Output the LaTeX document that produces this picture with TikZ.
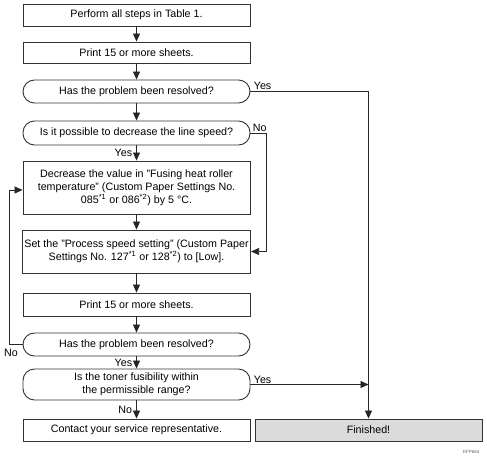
\documentclass[tikz,border=0pt]{standalone}
\usepackage{fontspec}
\setmainfont{Liberation Sans}
\usetikzlibrary{arrows.meta}
\begin{document}
\begin{tikzpicture}[x=1pt,y=-1pt,
  every node/.style={font=\fontsize{10.7}{13.2}\selectfont},
  stepbox/.style={draw=black!80,line width=0.9pt,minimum width=227pt,inner sep=2pt,align=center},
  askbox/.style={draw=black!80,line width=0.9pt,rounded corners=11.5pt,minimum width=227pt,inner sep=2pt,align=center},
  link/.style={draw=black!85,line width=0.8pt},
  flow/.style={link,-{Triangle[length=8pt,width=7pt]}},
  lbl/.style={inner sep=1pt,font=\fontsize{10.7}{12}\selectfont},
  vlbl/.style={lbl,left,pos=0.5,xshift=-3pt}]
\useasboundingbox (0,0) rectangle (487,458);
\node[stepbox,minimum height=22pt] (b1) at (136.5,15) {Perform all steps in Table 1.};
\node[stepbox,minimum height=21pt] (b2) at (136.5,52.5) {Print 15 or more sheets.};
\node[askbox,minimum height=23pt] (d1) at (136.5,91.5) {Has the problem been resolved?};
\node[askbox,minimum height=24pt] (d2) at (136.5,133) {Is it possible to decrease the line speed?};
\node[stepbox,minimum height=53pt] (b3) at (136.5,187.5) {Decrease the value in "Fusing heat roller\\temperature" (Custom Paper Settings No.\\085\textsuperscript{*1} or 086\textsuperscript{*2}) by 5 °C.};
\node[stepbox,minimum height=43pt] (b4) at (136.5,251.5) {Set the "Process speed setting" (Custom Paper\\Settings No. 127\textsuperscript{*1} or 128\textsuperscript{*2}) to [Low].};
\node[stepbox,minimum height=23pt] (b5) at (136.5,304.5) {Print 15 or more sheets.};
\node[askbox,minimum height=23pt] (d3) at (136.5,344.5) {Has the problem been resolved?};
\node[askbox,minimum height=31pt] (d4) at (136.5,384.5) {Is the toner fusibility within\\the permissible range?};
\node[stepbox,minimum height=22pt] (b6) at (136.5,430) {Contact your service representative.};
\node[stepbox,minimum height=22pt,fill=black!14] (fin) at (368.5,430) {Finished!};
\node[inner sep=0pt,font=\fontsize{4.5}{5}\selectfont,text=black!60] (tag) at (471,452) {DFP664};

\coordinate (j1) at (368.5,91.5);
\coordinate (n1) at (266,133);
\coordinate (l1) at (9,344.5);
\coordinate (l2) at (9,190);

\draw[flow] (b1) -- (b2);
\draw[flow] (b2) -- (d1);
\draw[flow] (d1) -- (d2);
\draw[flow] (d2) -- node[vlbl] {Yes} (b3);
\draw[flow] (b3) -- (b4);
\draw[flow] (b4) -- (b5);
\draw[flow] (b5) -- (d3);
\draw[flow] (d3) -- node[vlbl] {Yes} (d4);
\draw[flow] (d4) -- node[vlbl] {No} (b6);

\draw[flow] (d1.east) -- node[lbl,above right,pos=0,xshift=2pt] {Yes} (j1) -- (fin.north);
\draw[flow] (d4.east) -- node[lbl,above right,pos=0,xshift=2pt] {Yes} (d4.east -| j1);
\draw[flow] (d2.east) -- node[lbl,above right,pos=0,xshift=1pt] {No} (n1) |- (b4.east);
\draw[flow] (d3.west) -- (l1) node[lbl,below,xshift=2pt,yshift=-3pt] {No} -- (l2) -- (l2 -| b3.west);
\end{tikzpicture}
\end{document}
